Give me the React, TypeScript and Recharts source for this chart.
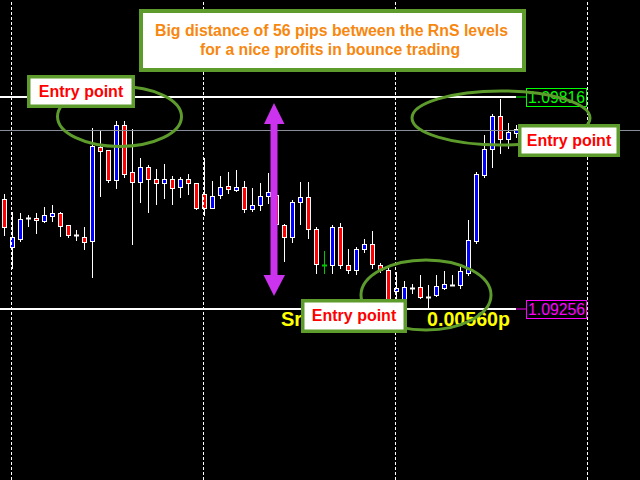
import { Bar, ComposedChart, ReferenceLine, XAxis, YAxis } from 'recharts'

// ── OHLC (EURUSD, one bar per slot) ──
const opens = [
  1.09547, 1.0942, 1.09441, 1.09496, 1.09496, 1.09488, 1.09502, 1.0951, 1.09478, 1.09451,
  1.09446, 1.09436, 1.09684, 1.09676, 1.09597, 1.09742, 1.09618, 1.09592, 1.09631, 1.09599,
  1.09589, 1.09599, 1.09578, 1.09599, 1.09589, 1.0956, 1.09523, 1.09557, 1.09581, 1.0957,
  1.09578, 1.0952, 1.09531, 1.09554, 1.09557, 1.09478, 1.09446, 1.09539, 1.09552, 1.09467,
  1.09372, 1.09372, 1.09473, 1.09372, 1.09359, 1.09415, 1.09428, 1.09372, 1.09359, 1.09304,
  1.0928, 1.09312, 1.09314, 1.09288, 1.09293, 1.09312, 1.09319, 1.09319, 1.09351, 1.09436,
  1.0961, 1.09679, 1.09766, 1.09705, 1.09721,
]
const highs = [
  1.0956, 1.09512, 1.0951, 1.09504, 1.0951, 1.09525, 1.09531, 1.09512, 1.09478, 1.09465,
  1.09473, 1.09734, 1.09726, 1.09676, 1.09753, 1.09753, 1.09731, 1.09655, 1.09636, 1.09626,
  1.09639, 1.09607, 1.09605, 1.09613, 1.09589, 1.09655, 1.09594, 1.09607, 1.09618, 1.09623,
  1.09594, 1.09576, 1.09589, 1.09615, 1.09565, 1.09481, 1.09544, 1.09592, 1.09592, 1.09473,
  1.09409, 1.09478, 1.09483, 1.09415, 1.0942, 1.09441, 1.09462, 1.09378, 1.09364, 1.09354,
  1.0933, 1.09322, 1.09346, 1.09319, 1.09346, 1.09356, 1.09346, 1.09367, 1.09491, 1.09618,
  1.09716, 1.09771, 1.09811, 1.09747, 1.09742,
]
const lows = [
  1.09451, 1.09364, 1.09436, 1.09475, 1.09457, 1.09486, 1.09488, 1.09449, 1.09446, 1.09438,
  1.09415, 1.09341, 1.09554, 1.09592, 1.09576, 1.09605, 1.09428, 1.09539, 1.09512, 1.09533,
  1.09549, 1.09533, 1.09552, 1.0956, 1.0952, 1.09504, 1.09523, 1.09549, 1.09562, 1.09568,
  1.09512, 1.09515, 1.09518, 1.09536, 1.0947, 1.09383, 1.09433, 1.09481, 1.09444, 1.09351,
  1.09351, 1.09351, 1.09364, 1.09351, 1.09348, 1.09407, 1.09364, 1.09354, 1.09275, 1.0928,
  1.09275, 1.09298, 1.09285, 1.09256, 1.0929, 1.09309, 1.09319, 1.09312, 1.09346, 1.0943,
  1.09605, 1.09631, 1.09668, 1.09681, 1.0971,
]
const closes = [
  1.09473, 1.09446, 1.09494, 1.09496, 1.09491, 1.09504, 1.0951, 1.09475, 1.09451, 1.09451,
  1.09433, 1.09687, 1.09673, 1.09597, 1.09742, 1.09613, 1.09592, 1.09631, 1.09599, 1.09589,
  1.09599, 1.09576, 1.09599, 1.09589, 1.09523, 1.09523, 1.09554, 1.09578, 1.09573, 1.09578,
  1.0952, 1.09531, 1.09554, 1.09565, 1.09481, 1.09446, 1.09539, 1.09552, 1.09467, 1.09375,
  1.09372, 1.09473, 1.09372, 1.09359, 1.09415, 1.09428, 1.09375, 1.09359, 1.0928, 1.09312,
  1.09314, 1.09312, 1.09288, 1.09288, 1.09317, 1.09322, 1.09319, 1.09356, 1.09438, 1.09613,
  1.09679, 1.09766, 1.09705, 1.09724, 1.09731,
]

// period separators (bar slots) and levels
const separators = [1, 25, 49, 73]
const upperLevel = 1.09816
const lowerLevel = 1.09256
const bidPrice = 1.097275
const greenDojis = [40]
const upperLabel = '1.09816'
const lowerLabel = '1.09256'
const distanceLabel = '0.00560p'
const titleLines = ['Big distance of 56 pips between the RnS levels', 'for a nice profits in bounce trading']
const entryText = 'Entry point'

const data = opens.map((open, idx) => ({
  idx,
  open,
  high: highs[idx],
  low: lows[idx],
  close: closes[idx],
}))

const W = 640
const H = 480
// 8px per bar, slot 0 centred on pixel column 3
const X_DOMAIN: [number, number] = [-0.4375, 79.5625]
const Y_DOMAIN: [number, number] = [1.088043, 1.100722]
const LEVEL_END = 64.0625

const GREEN = '#5d9b2c'
const FONT = '"Liberation Sans", Arial, sans-serif'

function Candle(props: any) {
  const { x, y, width, height, payload } = props
  const { open, high, low, close, idx } = payload
  const span = high - low
  const toY = (v: number) => Math.round(y + ((high - v) / span) * height) + 0.5
  const cx = Math.floor(x + width / 2 + 0.01) + 0.5
  const wick = greenDojis.includes(idx) ? '#00c800' : '#ffffff'
  const top = toY(Math.max(open, close))
  const bottom = toY(Math.min(open, close))
  return (
    <g>
      <line x1={cx} x2={cx} y1={toY(high) - 0.5} y2={toY(low) + 0.5} stroke={wick} strokeWidth={1} />
      {open === close ? (
        <line x1={cx - 2.5} x2={cx + 2.5} y1={top} y2={top} stroke={wick} strokeWidth={2} />
      ) : (
        <rect
          x={cx - 2}
          y={top}
          width={4}
          height={Math.max(bottom - top, 1)}
          fill={close > open ? '#0000ff' : '#ff0000'}
          stroke="#ffffff"
          strokeWidth={1}
        />
      )}
    </g>
  )
}

function EntryBox({ x, y, w, h }: { x: number; y: number; w: number; h: number }) {
  return (
    <g>
      <rect x={x + 1.75} y={y + 1.75} width={w - 3.5} height={h - 3.5} fill="#ffffff" stroke={GREEN} strokeWidth={3.5} />
      <text x={x + w / 2} y={y + 22} textAnchor="middle" fontFamily={FONT} fontWeight="bold" fontSize={16} fill="#ff0000">
        {entryText}
      </text>
    </g>
  )
}

function LevelTag({ y, color, text }: { y: number; color: string; text: string }) {
  return (
    <g>
      <line x1={516} x2={526} y1={y} y2={y} stroke={color} strokeWidth={1} />
      <rect x={526.5} y={y - 8.5} width={60} height={18} fill="#000" stroke={color} strokeWidth={1} />
      <text x={528} y={y + 6} fontFamily={FONT} fontSize={16} fill={color} textLength={57} lengthAdjust="spacingAndGlyphs">
        {text}
      </text>
    </g>
  )
}

export default function App() {
  return (
    <div style={{ position: 'absolute', left: 0, top: 0, width: W, height: H, background: '#000', overflow: 'hidden' }}>
      <ComposedChart width={W} height={H} data={data} margin={{ top: 0, right: 0, bottom: 0, left: 0 }}>
        <XAxis type="number" dataKey="idx" domain={X_DOMAIN} hide allowDataOverflow />
        <YAxis type="number" domain={Y_DOMAIN} hide allowDataOverflow />
        {separators.map((s) => (
          <ReferenceLine key={s} x={s} stroke="#ffffff" strokeDasharray="3 2" strokeWidth={1} />
        ))}
        <ReferenceLine y={bidPrice} stroke="#8a9099" strokeWidth={1} />
        <ReferenceLine
          segment={[{ x: X_DOMAIN[0], y: upperLevel }, { x: LEVEL_END, y: upperLevel }]}
          stroke="#ffffff"
          strokeWidth={2}
        />
        <ReferenceLine
          segment={[{ x: X_DOMAIN[0], y: lowerLevel }, { x: LEVEL_END, y: lowerLevel }]}
          stroke="#ffffff"
          strokeWidth={2}
        />
        <Bar dataKey={(d: any) => [d.low, d.high]} shape={Candle} barSize={5} isAnimationActive={false} />
      </ComposedChart>

      <svg width={W} height={H} style={{ position: 'absolute', left: 0, top: 0, pointerEvents: 'none' }}>
        <LevelTag y={97} color="#00ff00" text={upperLabel} />
        <LevelTag y={309} color="#ff00ff" text={lowerLabel} />

        {/* double arrow between the levels */}
        <g fill="#cc33ee">
          <rect x={270.5} y={121} width={7} height={156} />
          <polygon points="264,124 284.5,124 274,103" />
          <polygon points="263.5,275 285,275 274,296" />
        </g>

        <g fontFamily={FONT} fontWeight="bold" fontSize={20} fill="#ffff00">
          <text x={281} y={326}>Sr</text>
          <text x={427} y={326} textLength={83} lengthAdjust="spacingAndGlyphs">{distanceLabel}</text>
        </g>

        <g fill="none" stroke={GREEN} strokeWidth={3}>
          <ellipse cx={119.5} cy={116.5} rx={62} ry={30} />
          <ellipse cx={501} cy={118} rx={89} ry={27} />
          <ellipse cx={426} cy={295} rx={65} ry={35} />
        </g>

        <EntryBox x={27} y={75} w={108} h={33} />
        <EntryBox x={518} y={124} w={102} h={33} />
        <EntryBox x={301} y={299} w={106} h={34} />

        <rect x={141} y={11} width={383} height={59} fill="#ffffff" stroke={GREEN} strokeWidth={4} />
        <g fontFamily={FONT} fontWeight="bold" fontSize={16} fill="#f7870f">
          <text x={155} y={36} textLength={353} lengthAdjust="spacingAndGlyphs">{titleLines[0]}</text>
          <text x={200} y={55} textLength={260} lengthAdjust="spacingAndGlyphs">{titleLines[1]}</text>
        </g>
      </svg>
    </div>
  )
}
